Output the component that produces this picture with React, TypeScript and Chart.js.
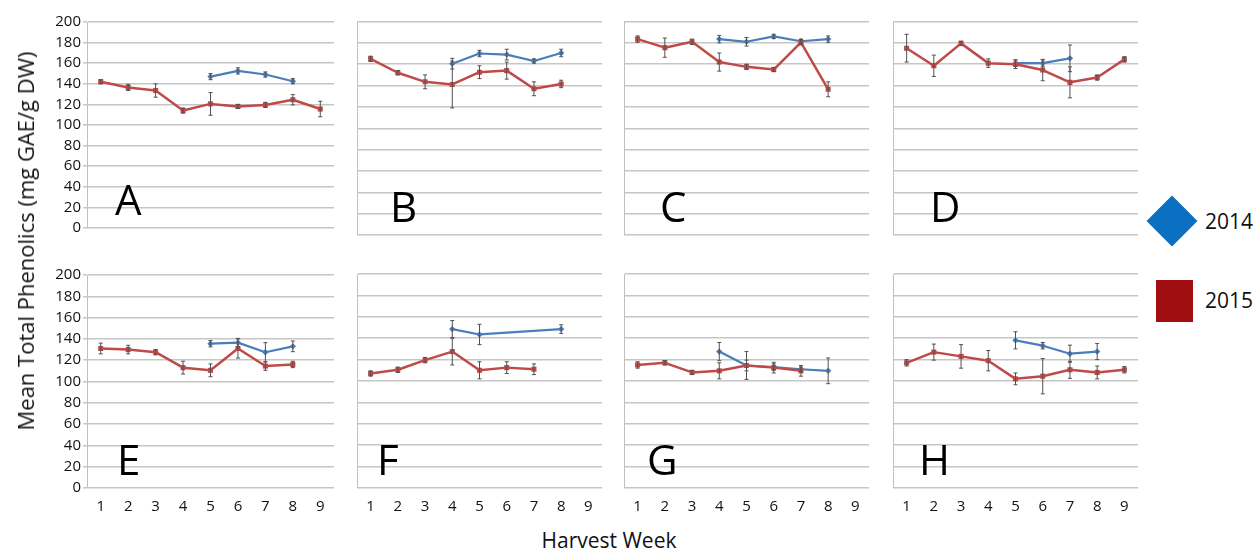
import React, { useEffect, useRef } from 'react';
import { Chart, registerables } from 'chart.js';

Chart.register(...registerables);

// ---------- data ----------
const WEEKS = ['1', '2', '3', '4', '5', '6', '7', '8', '9'];
const Y_MIN = 0;
const Y_MAX = 200;
const Y_STEP = 20;
const SERIES_NAMES = ['2014', '2015'];
const Y_TITLE = 'Mean Total Phenolics (mg GAE/g DW)';
const X_TITLE = 'Harvest Week';

const A_2014 = [null, null, null, null, 147, 152.5, 149, 142.5, null];
const A_2014_ERR = [0, 0, 0, 0, 3, 3, 2.5, 2.5, 0];
const A_2015 = [142, 136.5, 133.5, 114, 120.5, 118, 119.5, 124.5, 115.5];
const A_2015_ERR = [2, 3, 6.5, 2.5, 11, 2, 2.5, 5, 7.5];

const B_2014 = [null, null, null, 160.5, 170, 169, 163, 170.5, null];
const B_2014_ERR = [0, 0, 0, 5, 3, 5, 2, 3.5, 0];
const B_2015 = [165, 152, 143.5, 141, 152.5, 154, 137, 141.5, null];
const B_2015_ERR = [2.5, 2, 6.5, 22, 6, 8, 6.5, 3.5, 0];

const C_2014 = [null, null, null, 183.5, 181, 186, 181.5, 183.5, null];
const C_2014_ERR = [0, 0, 0, 3.5, 4, 2, 2, 3, 0];
const C_2015 = [183.5, 175.5, 181, 162, 157.5, 155, 180.5, 136.5, null];
const C_2015_ERR = [3, 9, 2.5, 8.5, 2.5, 2, 2.5, 7, 0];

const D_2014 = [null, null, null, null, 161, 161, 165.5, null, null];
const D_2014_ERR = [0, 0, 0, 0, 3, 3, 12.5, 0, 0];
const D_2015 = [175, 158.5, 179.5, 161, 160, 154.5, 143, 147.5, 164.5];
const D_2015_ERR = [13, 10, 2, 4, 4, 10, 14.5, 2.5, 2.5];

const E_2014 = [null, null, null, null, 135.5, 136.5, 127.5, 133, null];
const E_2014_ERR = [0, 0, 0, 0, 3, 4, 9, 5, 0];
const E_2015 = [131, 130, 127.5, 113, 110.5, 131, 114.5, 116, null];
const E_2015_ERR = [5, 4, 2.5, 6, 6, 9, 4, 3, 0];

const F_2014 = [null, null, null, 148.5, 143.5, null, null, 148.5, null];
const F_2014_ERR = [0, 0, 0, 8, 9.5, 0, 0, 4, 0];
const F_2015 = [107, 110.5, 119.5, 127.5, 110, 112.5, 111, null, null];
const F_2015_ERR = [2.5, 2.5, 2.5, 12.5, 8, 5.5, 5, 0, 0];

const G_2014 = [null, null, null, 127.5, 114.5, 113, 111, 109.5, null];
const G_2014_ERR = [0, 0, 0, 8.5, 13, 3, 2, 12, 0];
const G_2015 = [115, 117, 108, 109.5, 114.5, 112.5, 109.5, null, null];
const G_2015_ERR = [3, 2, 2, 7.5, 5, 5, 5, 0, 0];

const H_2014 = [null, null, null, null, 138, 133, 125.5, 127.5, null];
const H_2014_ERR = [0, 0, 0, 0, 8, 3, 8, 7.5, 0];
const H_2015 = [117, 127, 123, 119, 102, 104.5, 110.5, 108, 110.5];
const H_2015_ERR = [3, 7.5, 11, 9.5, 5.5, 16.5, 8, 6, 3];

const PANEL_LETTERS = ['A', 'B', 'C', 'D', 'E', 'F', 'G', 'H'];
const PANEL_2014 = [A_2014, B_2014, C_2014, D_2014, E_2014, F_2014, G_2014, H_2014];
const PANEL_2014_ERR = [A_2014_ERR, B_2014_ERR, C_2014_ERR, D_2014_ERR, E_2014_ERR, F_2014_ERR, G_2014_ERR, H_2014_ERR];
const PANEL_2015 = [A_2015, B_2015, C_2015, D_2015, E_2015, F_2015, G_2015, H_2015];
const PANEL_2015_ERR = [A_2015_ERR, B_2015_ERR, C_2015_ERR, D_2015_ERR, E_2015_ERR, F_2015_ERR, G_2015_ERR, H_2015_ERR];

// ---------- style / layout ----------
const FONT = '"Open Sans", "Liberation Sans", sans-serif';
const COLOR_2014 = '#4A7EBB';
const COLOR_2015 = '#BE4B48';
const LEGEND_2014 = '#0A6FC0';
const LEGEND_2015 = '#A00E12';
const GRID = '#c6c6c6';

const PLOT_LEFTS = [87, 355, 622, 891];
const PLOT_W = 247;
const ROW_TOPS = [21.5, 274];
const ROW_H = [215.5, 214];
const LETTER_DX = [28, 33, 36, 37, 30, 20, 23, 26];

const letterPlugin = {
  id: 'panelLetter',
  afterDraw(chart: any, _args: any, opts: any) {
    const { ctx, chartArea } = chart;
    ctx.save();
    ctx.font = `42px ${FONT}`;
    ctx.fillStyle = '#000';
    ctx.textBaseline = 'alphabetic';
    ctx.textAlign = 'left';
    ctx.fillText(opts.text, chartArea.left + opts.dx, chartArea.bottom - 13.5);
    ctx.restore();
  },
};

const errorBarPlugin = {
  id: 'errorBars',
  afterDatasetsDraw(chart: any, _args: any, opts: any) {
    const { ctx } = chart;
    const ys = chart.scales.y;
    ctx.save();
    ctx.strokeStyle = '#505050';
    ctx.lineWidth = 1;
    chart.data.datasets.forEach((ds: any, i: number) => {
      const meta = chart.getDatasetMeta(i);
      const errs = opts.errors[i];
      ds.data.forEach((v: number | null, j: number) => {
        if (v == null || !errs[j]) return;
        const x = meta.data[j].x;
        const y1 = ys.getPixelForValue(v + errs[j]);
        const y2 = ys.getPixelForValue(v - errs[j]);
        ctx.beginPath();
        ctx.moveTo(x, y1);
        ctx.lineTo(x, y2);
        ctx.moveTo(x - 2, y1);
        ctx.lineTo(x + 2, y1);
        ctx.moveTo(x - 2, y2);
        ctx.lineTo(x + 2, y2);
        ctx.stroke();
      });
    });
    ctx.restore();
  },
};

function Panel({ index }: { index: number }) {
  const ref = useRef<HTMLCanvasElement>(null);
  const col = index % 4;
  const row = Math.floor(index / 4);
  const yW = col === 0 ? 60 : 2;
  const xH = row === 1 ? 30 : 2;
  const padTop = 10;
  const padRight = 4;
  const plotLeft = PLOT_LEFTS[col];
  const plotTop = ROW_TOPS[row];
  const plotH = ROW_H[row];
  const left = plotLeft - yW;
  const top = Math.floor(plotTop - padTop);
  const padTopExact = plotTop - top;
  const w = Math.round(yW + PLOT_W + padRight);
  const h = Math.ceil(padTopExact + plotH + xH);

  useEffect(() => {
    let chart: Chart | null = null;
    let cancelled = false;
    const make = () => {
      if (cancelled || !ref.current) return;
      chart = new Chart(ref.current, {
        type: 'line',
        data: {
          labels: WEEKS,
          datasets: [
            {
              label: SERIES_NAMES[1],
              data: PANEL_2015[index] as any,
              borderColor: COLOR_2015,
              backgroundColor: COLOR_2015,
              borderWidth: 2.5,
              pointStyle: 'rect',
              pointRadius: 3.6,
              pointBorderWidth: 0,
              tension: 0,
              spanGaps: true,
              borderJoinStyle: 'round',
            },
            {
              label: SERIES_NAMES[0],
              data: PANEL_2014[index] as any,
              borderColor: COLOR_2014,
              backgroundColor: COLOR_2014,
              borderWidth: 2.2,
              pointStyle: 'rectRot',
              pointRadius: 3.2,
              pointBorderWidth: 0,
              tension: 0,
              spanGaps: true,
              borderJoinStyle: 'round',
            },
          ],
        },
        options: {
          animation: false,
          responsive: false,
          devicePixelRatio: 1,
          layout: { padding: { top: padTopExact, right: padRight, left: 0, bottom: 0 } },
          plugins: {
            legend: { display: false },
            tooltip: { enabled: false },
            panelLetter: { text: PANEL_LETTERS[index], dx: LETTER_DX[index] },
            errorBars: { errors: [PANEL_2015_ERR[index], PANEL_2014_ERR[index]] },
          } as any,
          scales: {
            x: {
              type: 'category',
              offset: true,
              grid: { display: false },
              border: { display: false },
              ticks: {
                display: row === 1,
                autoSkip: false,
                maxRotation: 0,
                padding: 2,
                color: '#111',
                font: { family: FONT, size: 15 },
              },
              afterFit: (s: any) => {
                s.height = xH;
              },
            },
            y: {
              min: Y_MIN,
              max: Y_MAX,
              grid: {
                color: GRID,
                lineWidth: 1.5,
                drawTicks: col === 0,
                tickLength: 4,
              },
              border: { display: true, color: '#c0c0c0', width: 1 },
              ticks: {
                display: col === 0,
                stepSize: Y_STEP,
                autoSkip: false,
                padding: 2,
                color: '#111',
                font: { family: FONT, size: 15 },
              },
              afterFit: (s: any) => {
                s.width = yW;
              },
            },
          },
        } as any,
        plugins: [letterPlugin, errorBarPlugin],
      });
    };
    if ((document as any).fonts && (document as any).fonts.load) {
      Promise.all([
        (document as any).fonts.load(`15px ${FONT}`),
        (document as any).fonts.load(`42px ${FONT}`),
      ]).then(make, make);
    } else {
      make();
    }
    return () => {
      cancelled = true;
      if (chart) chart.destroy();
    };
  }, []);

  return (
    <canvas
      ref={ref}
      width={w}
      height={h}
      style={{ position: 'absolute', left, top, width: w, height: h }}
    />
  );
}

export default function App() {
  return (
    <div
      style={{
        position: 'absolute',
        left: 0,
        top: 0,
        width: 1254,
        height: 550,
        background: '#fff',
        overflow: 'hidden',
        fontFamily: FONT,
      }}
    >
      {PANEL_LETTERS.map((_, i) => (
        <Panel key={i} index={i} />
      ))}
      <div
        style={{
          position: 'absolute',
          left: 25,
          top: 241,
          transform: 'translate(-50%, -50%) rotate(-90deg)',
          whiteSpace: 'nowrap',
          fontSize: 22,
          color: '#111',
          lineHeight: '24px',
        }}
      >
        {Y_TITLE}
      </div>
      <div
        style={{
          position: 'absolute',
          left: 609,
          top: 529,
          transform: 'translateX(-50%)',
          whiteSpace: 'nowrap',
          fontSize: 21,
          color: '#111',
          lineHeight: '22px',
        }}
      >
        {X_TITLE}
      </div>
      {/* legend */}
      <div
        style={{
          position: 'absolute',
          left: 1172 - 18,
          top: 221 - 18,
          width: 36,
          height: 36,
          background: LEGEND_2014,
          transform: 'rotate(45deg)',
        }}
      />
      <div
        style={{
          position: 'absolute',
          left: 1205,
          top: 221,
          transform: 'translateY(-50%)',
          fontSize: 21,
          lineHeight: '24px',
          color: '#111',
        }}
      >
        {SERIES_NAMES[0]}
      </div>
      <div
        style={{
          position: 'absolute',
          left: 1156,
          top: 280,
          width: 37,
          height: 42,
          background: LEGEND_2015,
        }}
      />
      <div
        style={{
          position: 'absolute',
          left: 1205,
          top: 300,
          transform: 'translateY(-50%)',
          fontSize: 21,
          lineHeight: '24px',
          color: '#111',
        }}
      >
        {SERIES_NAMES[1]}
      </div>
    </div>
  );
}
